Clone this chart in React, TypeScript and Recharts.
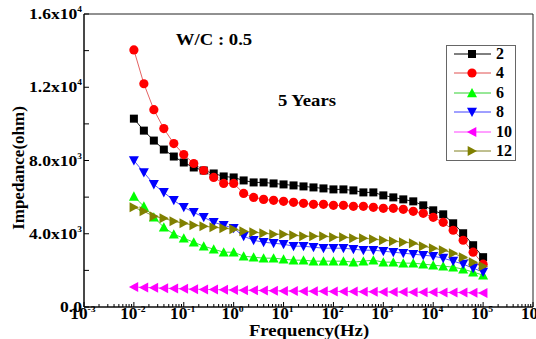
import React from 'react';
import { LineChart, Line, XAxis, YAxis, ReferenceArea, Legend } from 'recharts';

// Frequencies (Hz)
const frequencies = [
  0.01, 0.01585, 0.02512, 0.03981, 0.0631, 0.1, 0.1585, 0.2512, 0.3981, 0.631,
  1, 1.585, 2.512, 3.981, 6.31, 10, 15.85, 25.12, 39.81, 63.1,
  100, 158.5, 251.2, 398.1, 631, 1000, 1585, 2512, 3981, 6310,
  10000, 15850, 25120, 39810, 63100, 100000,
];

// Impedance (ohm) for each series
const s2 = [
  10285, 9632, 9088, 8598, 8217, 7891, 7619, 7455, 7292, 7129,
  7075, 6911, 6803, 6803, 6748, 6694, 6639, 6585, 6530, 6476,
  6422, 6422, 6367, 6258, 6258, 6095, 5986, 5877, 5769, 5551,
  5279, 5061, 4571, 4027, 3374, 2721,
];
const s4 = [
  14040, 12190, 10775, 9741, 8925, 8326, 7837, 7455, 7075, 6748,
  6748, 6204, 5986, 5877, 5823, 5769, 5714, 5660, 5605, 5605,
  5551, 5551, 5496, 5496, 5442, 5388, 5388, 5333, 5224, 5115,
  4898, 4626, 4190, 3646, 2993, 2340,
];
const s6 = [
  6041, 5496, 4898, 4354, 3973, 3755, 3537, 3320, 3156, 2993,
  2993, 2775, 2721, 2667, 2667, 2612, 2558, 2558, 2503, 2503,
  2503, 2503, 2449, 2503, 2558, 2449, 2449, 2394, 2394, 2340,
  2286, 2231, 2177, 2068, 1905, 1741,
];
const s8 = [
  8000, 7347, 6694, 6258, 5823, 5442, 5170, 4898, 4626, 4462,
  4299, 3864, 3646, 3537, 3483, 3428, 3320, 3320, 3265, 3211,
  3211, 3211, 3156, 3102, 3102, 3048, 2993, 2939, 2884, 2830,
  2775, 2667, 2503, 2340, 2122, 1905,
];
const s10 = [
  1090, 1070, 1050, 1030, 1010, 990, 975, 960, 950, 940,
  930, 920, 910, 900, 890, 880, 870, 865, 860, 855,
  850, 845, 840, 835, 830, 825, 820, 815, 810, 805,
  800, 795, 790, 785, 780, 760,
];
const s12 = [
  5442, 5224, 4952, 4843, 4680, 4571, 4462, 4408, 4354, 4299,
  4245, 4136, 4082, 4027, 3973, 3973, 3918, 3864, 3864, 3864,
  3809, 3809, 3755, 3755, 3700, 3646, 3592, 3537, 3483, 3320,
  3211, 3102, 2939, 2721, 2449, 2231,
];

const seriesNames = ['2', '4', '6', '8', '10', '12'];
const seriesValues = [s2, s4, s6, s8, s10, s12];
const seriesShapes = ['square', 'circle', 'triUp', 'triDown', 'triLeft', 'triRight'];
const markerColors = ['#000000', '#ff0000', '#00ff00', '#0000ff', '#ff00ff', '#808000'];
const lineColors = ['#000000', '#e05050', '#30d030', '#4040ff', '#ff40ff', '#808020'];

// Axis ticks
const xMajorTicks = [0.001, 0.01, 0.1, 1, 10, 100, 1000, 10000, 100000, 1000000];
const xMajorExponents = ['-3', '-2', '-1', '0', '1', '2', '3', '4', '5', '6'];
const yMajorTicks = [0, 4000, 8000, 12000, 16000];
const yMajorMantissas = ['0.0', '4.0', '8.0', '1.2', '1.6'];
const yMajorExponents = ['', '3', '3', '4', '4'];
const yMinorTicks = [2000, 6000, 10000, 14000];

const xMinorTicks: number[] = [];
xMajorTicks.slice(0, -1).forEach((d) => {
  for (let k = 2; k <= 9; k++) xMinorTicks.push(+(d * k).toPrecision(3));
});
const xAllTicks = [...xMajorTicks, ...xMinorTicks].sort((a, b) => a - b);
const yAllTicks = [...yMajorTicks, ...yMinorTicks].sort((a, b) => a - b);

const rows = frequencies.map((f, i) => {
  const r: any = { f };
  seriesNames.forEach((n, j) => {
    r['s' + n] = seriesValues[j][i];
  });
  return r;
});

const FONT = '"Liberation Serif", "Times New Roman", serif';
const STRETCH = 1.17;

const SText = ({ x, y, size, anchor = 'middle', sx = STRETCH, children }: any) => (
  <text
    transform={`translate(${x},${y}) scale(${sx},1)`}
    x={0}
    y={0}
    textAnchor={anchor}
    fontFamily={FONT}
    fontWeight="bold"
    fontSize={size}
    fill="#000"
  >
    {children}
  </text>
);

const Marker = ({ shape, cx, cy, color, s = 1 }: any) => {
  if (shape === 'square') {
    const h = 4 * s;
    return <rect x={cx - h} y={cy - h} width={2 * h} height={2 * h} fill={color} />;
  }
  if (shape === 'circle') return <circle cx={cx} cy={cy} r={4.6 * s} fill={color} />;
  const a = 5 * s;
  const b = 4.3 * s;
  let pts = '';
  if (shape === 'triUp') pts = `${cx},${cy - a} ${cx - a},${cy + b} ${cx + a},${cy + b}`;
  if (shape === 'triDown') pts = `${cx - a},${cy - b} ${cx + a},${cy - b} ${cx},${cy + a}`;
  if (shape === 'triLeft') pts = `${cx - a},${cy} ${cx + b},${cy - a} ${cx + b},${cy + a}`;
  if (shape === 'triRight') pts = `${cx + a},${cy} ${cx - b},${cy - a} ${cx - b},${cy + a}`;
  return <polygon points={pts} fill={color} />;
};

const makeDot = (shape: string, color: string) => (props: any) => {
  const { cx, cy, index } = props;
  if (cx == null || cy == null) return <g key={index} />;
  return (
    <g key={index}>
      <Marker shape={shape} cx={cx} cy={cy} color={color} />
    </g>
  );
};

const XTick = (props: any) => {
  const { x, y, payload } = props;
  const v = payload.value;
  const idx = xMajorTicks.indexOf(v);
  const major = idx >= 0;
  return (
    <g>
      <line x1={x} x2={x} y1={y} y2={y - (major ? 5 : 3)} stroke="#000" strokeWidth={1} />
      {major && (
        <SText x={x - 1} y={y + 12} size={16} sx={1.08}>
          <tspan>10</tspan>
          <tspan dy={-7} fontSize={9}>{xMajorExponents[idx]}</tspan>
        </SText>
      )}
    </g>
  );
};

const YTick = (props: any) => {
  const { x, y, payload } = props;
  const v = payload.value;
  const idx = yMajorTicks.indexOf(v);
  const major = idx >= 0;
  return (
    <g>
      <line x1={x} x2={x + 5} y1={y} y2={y} stroke="#000" strokeWidth={1} />
      {major && (
        <SText x={x - 2} y={y + 5} size={15} anchor="end">
          <tspan>{yMajorMantissas[idx] + (yMajorExponents[idx] ? 'x10' : '')}</tspan>
          {yMajorExponents[idx] && <tspan dy={-7} fontSize={8}>{yMajorExponents[idx]}</tspan>}
        </SText>
      )}
    </g>
  );
};

const LegendBox = () => (
  <div
    style={{
      width: 70,
      height: 116,
      border: '1px solid #666',
      background: '#fff',
      boxSizing: 'border-box',
      position: 'relative',
    }}
  >
    {seriesNames.map((n, i) => (
      <div key={n} style={{ position: 'absolute', left: 0, top: 8 + i * 19.4 - 10, height: 20, width: 70 }}>
        <svg width={48} height={20} style={{ position: 'absolute', left: 0, top: 0 }}>
          <line x1={7} x2={44} y1={10} y2={10} stroke={lineColors[i]} strokeWidth={1} />
          <Marker shape={seriesShapes[i]} cx={25} cy={10} color={markerColors[i]} />
        </svg>
        <span
          style={{
            position: 'absolute',
            left: 49,
            top: 0,
            lineHeight: '20px',
            fontFamily: FONT,
            fontWeight: 'bold',
            fontSize: 16,
            color: '#000',
          }}
        >
          {n}
        </span>
      </div>
    ))}
  </div>
);

export default function App() {
  return (
    <div style={{ position: 'absolute', left: 0, top: 0, width: 536, height: 339, background: '#fff' }}>
      <LineChart width={536} height={339} data={rows} margin={{ top: 14, right: 3, left: 0, bottom: 0 }}>
        <XAxis
          dataKey="f"
          type="number"
          scale="log"
          domain={[0.001, 1000000]}
          allowDataOverflow
          ticks={xAllTicks}
          interval={0}
          tick={<XTick />}
          tickLine={false}
          tickSize={0}
          tickMargin={0}
          height={32}
          axisLine={{ stroke: '#000' }}
        />
        <YAxis
          type="number"
          domain={[0, 16000]}
          ticks={yAllTicks}
          interval={0}
          tick={<YTick />}
          tickLine={false}
          tickSize={0}
          tickMargin={0}
          width={84}
          axisLine={{ stroke: '#000' }}
        />
        <ReferenceArea
          x1={0.001}
          x2={1000000}
          y1={0}
          y2={16000}
          fill="none"
          fillOpacity={0}
          stroke="#222"
          strokeWidth={1}
          ifOverflow="visible"
        />
        {seriesNames.map((n, i) => (
          <Line
            key={n}
            dataKey={'s' + n}
            name={n}
            stroke={lineColors[i]}
            strokeWidth={0.9}
            dot={makeDot(seriesShapes[i], markerColors[i])}
            activeDot={false}
            isAnimationActive={false}
          />
        ))}
        <Legend
          layout="vertical"
          align="center"
          verticalAlign="middle"
          content={() => <LegendBox />}
          wrapperStyle={{ left: 446, top: 45, width: 70, height: 116 }}
        />
        <SText x={214} y={45} size={16}>W/C : 0.5</SText>
        <SText x={307} y={106} size={16}>5 Years</SText>
        <SText x={309} y={336} size={16}>Frequency(Hz)</SText>
        <text
          transform="rotate(-90)"
          x={-168}
          y={24}
          textAnchor="middle"
          fontFamily={FONT}
          fontWeight="bold"
          fontSize={17}
          fill="#000"
        >
          Impedance(ohm)
        </text>
      </LineChart>
    </div>
  );
}
